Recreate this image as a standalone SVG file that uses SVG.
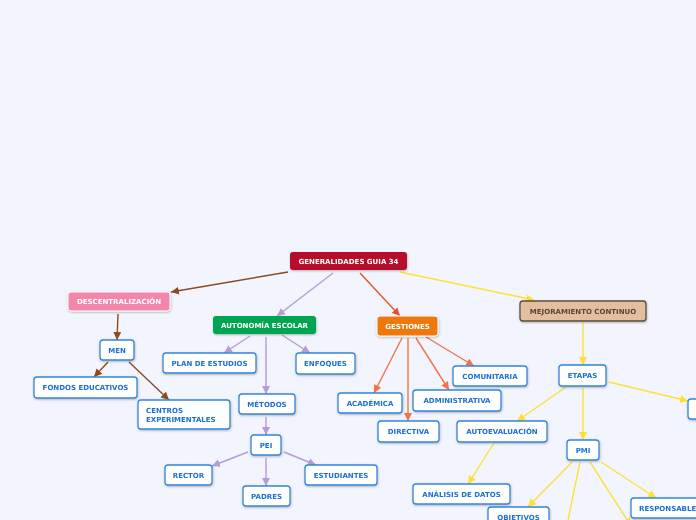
<svg xmlns="http://www.w3.org/2000/svg" width="696" height="520" viewBox="0 0 696 520">
<defs>
<filter id="sh" x="-20%" y="-30%" width="140%" height="170%">
<feDropShadow dx="0.5" dy="1" stdDeviation="0.8" flood-color="#000" flood-opacity="0.28"/>
</filter>
<marker id="aB" markerUnits="userSpaceOnUse" markerWidth="10" markerHeight="10" refX="8" refY="4" orient="auto"><path d="M0,0 L8,4 L0,8 Z" fill="#8f4a1d"/></marker>
<marker id="aP" markerUnits="userSpaceOnUse" markerWidth="10" markerHeight="10" refX="8" refY="4" orient="auto"><path d="M0,0 L8,4 L0,8 Z" fill="#b79bd5"/></marker>
<marker id="aO" markerUnits="userSpaceOnUse" markerWidth="10" markerHeight="10" refX="8" refY="4" orient="auto"><path d="M0,0 L8,4 L0,8 Z" fill="#f07448"/></marker>
<marker id="aR" markerUnits="userSpaceOnUse" markerWidth="10" markerHeight="10" refX="8" refY="4" orient="auto"><path d="M0,0 L8,4 L0,8 Z" fill="#e8532b"/></marker>
<marker id="aY" markerUnits="userSpaceOnUse" markerWidth="10" markerHeight="10" refX="8" refY="4" orient="auto"><path d="M0,0 L8,4 L0,8 Z" fill="#ffe032"/></marker>
</defs>
<style>
.n rect{fill:#fff;stroke:#3585dc;stroke-width:1.3}
text{font-family:"DejaVu Sans","Verdana",sans-serif;font-weight:bold;font-size:7px}
.n text{fill:#1b6fd3;text-anchor:middle}
.m text{fill:#fff;text-anchor:middle}
.c line{fill:none;stroke-width:1.4}
.b{stroke:#8f4a1d;marker-end:url(#aB)}
.p{stroke:#b79bd5;marker-end:url(#aP)}
.o{stroke:#f07448;marker-end:url(#aO)}
.r{stroke:#e8532b;marker-end:url(#aR)}
.y{stroke:#ffe032;marker-end:url(#aY)}
</style>
<rect width="696" height="520" fill="#f2f5fd"/>
<g class="c" id="connectors">
<line class="b" x1="288" y1="272" x2="171" y2="292"/>
<line class="b" x1="118" y1="314" x2="117" y2="340"/>
<line class="b" x1="108" y1="362" x2="94" y2="377"/>
<line class="b" x1="129" y1="362" x2="169" y2="400"/>
<line class="p" x1="333" y1="273" x2="277" y2="316"/>
<line class="p" x1="250" y1="336" x2="224" y2="353"/>
<line class="p" x1="282" y1="335" x2="310" y2="353"/>
<line class="p" x1="266" y1="337" x2="266" y2="394"/>
<line class="p" x1="266" y1="417" x2="266" y2="435"/>
<line class="p" x1="248" y1="452" x2="212" y2="466"/>
<line class="p" x1="266" y1="458" x2="266" y2="486"/>
<line class="p" x1="284" y1="452" x2="316" y2="465"/>
<line class="r" x1="360" y1="273" x2="400" y2="316"/>
<line class="o" x1="402" y1="338" x2="374" y2="393"/>
<line class="o" x1="408" y1="338" x2="408" y2="421"/>
<line class="o" x1="416" y1="338" x2="449" y2="390"/>
<line class="o" x1="426" y1="337" x2="474" y2="366"/>
<line class="y" x1="400" y1="272" x2="534" y2="300"/>
<line class="y" x1="583" y1="323" x2="583" y2="365"/>
<line class="y" x1="566" y1="387" x2="517" y2="421"/>
<line class="y" x1="583" y1="388" x2="583" y2="440"/>
<line class="y" x1="609" y1="382" x2="688" y2="401"/>
<line class="y" x1="494" y1="443" x2="468" y2="484"/>
<line class="y" x1="572" y1="462" x2="528" y2="507"/>
<line class="y" x1="580" y1="462" x2="566" y2="530" style="marker-end:none"/>
<line class="y" x1="590" y1="462" x2="631" y2="526"/>
<line class="y" x1="601" y1="462" x2="656" y2="498"/>
</g>
<g id="root" class="m" filter="url(#sh)"><rect x="290" y="252" width="117" height="18" rx="3" fill="#b50c2b"/><text x="348.5" y="263.5">GENERALIDADES GUIA 34</text></g>
<g id="descentralizacion" class="m" filter="url(#sh)"><rect x="68" y="292" width="102" height="19" rx="3" fill="#f387ab" stroke="#fff" stroke-width="1"/><text x="119" y="304">DESCENTRALIZACIÓN</text></g>
<g id="autonomia" class="m" filter="url(#sh)"><rect x="213" y="316" width="103" height="18" rx="3" fill="#00a551"/><text x="264.5" y="327.5">AUTONOMÍA ESCOLAR</text></g>
<g id="gestiones" class="m" filter="url(#sh)"><rect x="377" y="316" width="61" height="20" rx="3" fill="#ef7811" stroke="#fff" stroke-width="1"/><text x="407.5" y="328.5">GESTIONES</text></g>
<g id="mejoramiento" filter="url(#sh)"><rect x="520" y="301" width="126" height="20" rx="3" fill="#e2bf9f" stroke="#5e4c3c" stroke-width="1.3"/><text x="583" y="313.5" fill="#5a4636" text-anchor="middle">MEJORAMIENTO CONTINUO</text></g>
<g id="men" class="n" filter="url(#sh)"><rect x="100" y="340" width="34" height="20" rx="3"/><text x="117" y="352.5">MEN</text></g>
<g id="plan" class="n" filter="url(#sh)"><rect x="163" y="353" width="93" height="20" rx="3"/><text x="209.5" y="365.5">PLAN DE ESTUDIOS</text></g>
<g id="enfoques" class="n" filter="url(#sh)"><rect x="296" y="353" width="59" height="21" rx="3"/><text x="325.5" y="366">ENFOQUES</text></g>
<g id="fondos" class="n" filter="url(#sh)"><rect x="34" y="377" width="103" height="21" rx="3"/><text x="85.5" y="390">FONDOS EDUCATIVOS</text></g>
<g id="centros" class="n" filter="url(#sh)"><rect x="138" y="400" width="92" height="29" rx="3"/><text x="146" y="413" style="text-anchor:start">CENTROS</text><text x="146" y="422" style="text-anchor:start">EXPERIMENTALES</text></g>
<g id="metodos" class="n" filter="url(#sh)"><rect x="239" y="394" width="56" height="20" rx="3"/><text x="267" y="406.5">MÉTODOS</text></g>
<g id="pei" class="n" filter="url(#sh)"><rect x="251" y="435" width="30" height="20" rx="3"/><text x="266" y="447.5">PEI</text></g>
<g id="rector" class="n" filter="url(#sh)"><rect x="165" y="465" width="47" height="20" rx="3"/><text x="188.5" y="477.5">RECTOR</text></g>
<g id="padres" class="n" filter="url(#sh)"><rect x="243" y="486" width="47" height="20" rx="3"/><text x="266.5" y="498.5">PADRES</text></g>
<g id="estudiantes" class="n" filter="url(#sh)"><rect x="305" y="465" width="72" height="20" rx="3"/><text x="341" y="477.5">ESTUDIANTES</text></g>
<g id="academica" class="n" filter="url(#sh)"><rect x="338" y="393" width="64" height="20" rx="3"/><text x="370" y="405.5">ACADÉMICA</text></g>
<g id="directiva" class="n" filter="url(#sh)"><rect x="378" y="421" width="61" height="21" rx="3"/><text x="408.5" y="434">DIRECTIVA</text></g>
<g id="administrativa" class="n" filter="url(#sh)"><rect x="413" y="390" width="88" height="21" rx="3"/><text x="457" y="403">ADMINISTRATIVA</text></g>
<g id="comunitaria" class="n" filter="url(#sh)"><rect x="453" y="366" width="74" height="20" rx="3"/><text x="490" y="378.5">COMUNITARIA</text></g>
<g id="etapas" class="n" filter="url(#sh)"><rect x="559" y="365" width="47" height="21" rx="3"/><text x="582.5" y="378">ETAPAS</text></g>
<g id="autoevaluacion" class="n" filter="url(#sh)"><rect x="457" y="421" width="90" height="21" rx="3"/><text x="502" y="434">AUTOEVALUACIÓN</text></g>
<g id="pmi" class="n" filter="url(#sh)"><rect x="567" y="440" width="32" height="20" rx="3"/><text x="583" y="452.5">PMI</text></g>
<g id="analisis" class="n" filter="url(#sh)"><rect x="413" y="484" width="97" height="20" rx="3"/><text x="461.5" y="496.5">ANÁLISIS DE DATOS</text></g>
<g id="objetivos" class="n" filter="url(#sh)"><rect x="488" y="507" width="61" height="20" rx="3"/><text x="518.5" y="519.5">OBJETIVOS</text></g>
<g id="responsable" class="n" filter="url(#sh)"><rect x="631" y="498" width="74" height="20" rx="3"/><text x="639" y="510.5" style="text-anchor:start">RESPONSABLE</text></g>
<g id="etapa-derecha" class="n" filter="url(#sh)"><rect x="688" y="399" width="30" height="20" rx="3"/></g>
</svg>
